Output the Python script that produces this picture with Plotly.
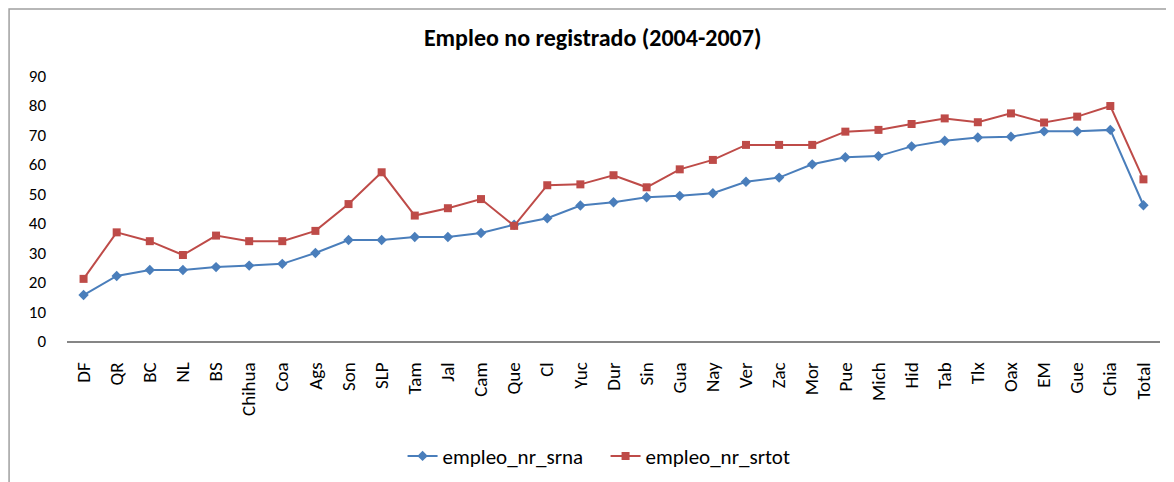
import plotly.graph_objects as go

# Data
states = ['DF', 'QR', 'BC', 'NL', 'BS', 'Chihua', 'Coa', 'Ags', 'Son', 'SLP',
          'Tam', 'Jal', 'Cam', 'Que', 'Cl', 'Yuc', 'Dur', 'Sin', 'Gua', 'Nay',
          'Ver', 'Zac', 'Mor', 'Pue', 'Mich', 'Hid', 'Tab', 'Tlx', 'Oax', 'EM',
          'Gue', 'Chia', 'Total']

empleo_nr_srna = [15.6, 22.1, 24.1, 24.1, 25.1, 25.6, 26.2, 29.9, 34.3, 34.3,
                  35.3, 35.3, 36.7, 39.5, 41.7, 46.0, 47.1, 48.8, 49.3, 50.2,
                  54.1, 55.5, 60.0, 62.4, 62.8, 66.1, 68.0, 69.1, 69.4, 71.2,
                  71.2, 71.7, 46.1]

empleo_nr_srtot = [21.1, 36.9, 33.9, 29.2, 35.8, 33.9, 33.9, 37.4, 46.5, 57.3,
                   42.6, 45.1, 48.2, 39.1, 52.9, 53.2, 56.3, 52.2, 58.3, 61.5,
                   66.6, 66.6, 66.6, 71.1, 71.7, 73.7, 75.6, 74.3, 77.3, 74.2,
                   76.2, 79.8, 54.9]

y_ticks = list(range(0, 100, 10))

FONT = 'Carlito, Lato, "Liberation Sans", sans-serif'

fig = go.Figure()

fig.add_trace(go.Scatter(
    x=states, y=empleo_nr_srna, mode='lines+markers', name='empleo_nr_srna',
    line=dict(color='#4A7EBB', width=2),
    marker=dict(symbol='diamond', size=8, color='#4A7EBB')
))
fig.add_trace(go.Scatter(
    x=states, y=empleo_nr_srtot, mode='lines+markers', name='empleo_nr_srtot',
    line=dict(color='#BE4B48', width=2),
    marker=dict(symbol='square', size=8, color='#BE4B48')
))

fig.update_layout(
    width=1174, height=482,
    paper_bgcolor='white', plot_bgcolor='white',
    margin=dict(l=59, r=22, t=68, b=149),
    font=dict(family=FONT, size=17, color='black'),
    title=dict(text='<b>Empleo no registrado (2004-2007)</b>',
               x=0.498, xref='container', y=0.938, yref='container',
               xanchor='center', yanchor='middle',
               font=dict(size=24, family=FONT)),
    showlegend=True,
    legend=dict(orientation='h', x=0.509, xanchor='center', xref='container',
                y=0.07, yref='container', yanchor='middle',
                font=dict(size=21), entrywidth=158, entrywidthmode='pixels'),
    shapes=[dict(type='rect', xref='paper', yref='paper',
                 x0=-0.053, x1=1.05, y0=-0.7, y1=1.2528,
                 line=dict(color='#A0A0A0', width=1.5), layer='below')]
)

fig.update_xaxes(
    type='category', range=[-0.5, len(states) - 0.5],
    showgrid=False, showline=True, linecolor='#868686', linewidth=1.5,
    ticks='', tickangle=-90, tickfont=dict(size=19), zeroline=False,
    ticklabelstandoff=12
)
fig.update_yaxes(
    range=[0, 90], tickvals=y_ticks, showgrid=False, showline=False,
    ticks='', zeroline=False, tickfont=dict(size=17), ticklabelstandoff=20
)

fig.write_html("out.html")
